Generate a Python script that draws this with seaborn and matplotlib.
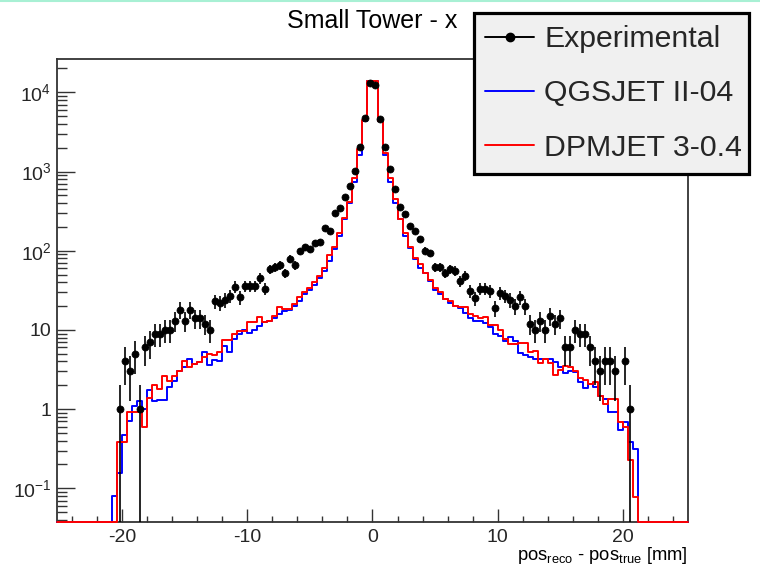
import numpy as np
import pandas as pd
import matplotlib
matplotlib.use("Agg")
import matplotlib.pyplot as plt
import seaborn as sns
from matplotlib.lines import Line2D
from matplotlib.ticker import FixedLocator, FixedFormatter, MultipleLocator, LogLocator, NullFormatter

# ---------------- data ----------------
bin_width = 0.4
x_range = (-25.2, 25.2)
# bin centres of the populated region (-20.6 ... 21.0)
centers = np.round(np.arange(-20.6, 21.0 + 1e-9, bin_width), 1)

experimental = [
    0, 1, 4, 3, 5, 1, 6, 7, 9, 9, 10, 10, 13, 18, 13, 18, 14, 14, 12, 10,
    23, 22, 24, 27, 35, 26, 36, 36, 36, 45, 33, 59, 62, 66, 52, 79, 66, 98, 111, 105,
    125, 130, 193, 178, 298, 351, 482, 662, 1014, 2050, 4800, 13240,
    12250, 4610, 2030, 1085, 603, 361, 288, 208, 177, 141, 100, 93, 62, 62, 52, 58,
    56, 41, 48, 31, 25, 33, 33, 31, 19, 29, 27, 24, 20, 26, 20, 12, 10, 13, 10, 15,
    12, 14, 6, 6, 10, 9, 9, 6, 4, 3, 4, 4, 3, 0, 4, 1, 0,
]

qgsjet = [
    0.079, 0.155, 0.475, 0.70, 1.1, 1.25, 1.0, 1.73, 1.25, 1.3, 1.3, 1.93, 2.27, 3.03,
    3.4, 4.3, 3.7, 3.9, 5.3, 3.6, 4.2, 4.1, 6.3, 5.3, 7.6, 9.0, 10.1, 9.2, 9.9, 11.2,
    12.5, 12.9, 14.2, 15.7, 17.3, 18.1, 20, 23.5, 28, 32, 37, 45, 56, 75, 106, 155,
    248, 400, 745, 1615, 4300, 13750,
    13750, 4300, 1615, 745, 400, 248, 155, 108, 78, 60, 52, 41, 32, 28, 24.7, 22,
    19.8, 19, 16.4, 14.2, 12.9, 12.9, 12.1, 10.8, 8.8, 8.4, 7.2, 8.2, 7.2, 5.06, 4.8,
    4.6, 4.34, 4.34, 4.34, 4.25, 3.9, 3.44, 2.89, 3.03, 2.95, 2.2, 1.87, 2.06, 1.93,
    1.47, 1.34, 0.92, 0.92, 0.55, 0.69, 0.39, 0.31,
]

dpmjet = [
    0, 0.39, 0.39, 0.92, 0.92, 0.92, 0.6, 1.4, 2.0, 1.79, 2.62, 2.27, 2.62, 3.03,
    4.1, 3.4, 3.7, 3.9, 4.5, 4.9, 4.8, 5.2, 7.4, 7.4, 8.8, 9.7, 9.7, 12.5, 12.5, 14.5,
    12.5, 12.9, 14.9, 19.5, 18.5, 18.6, 21.5, 25.9, 30, 34, 40, 48, 61, 89, 110, 167,
    258, 417, 820, 1900, 4450, 13750,
    13750, 4300, 1695, 820, 447, 250, 167, 113, 81, 67, 53, 43, 34, 30, 24.7, 23,
    20.3, 19.5, 19.5, 16, 15.2, 14.1, 14.7, 11.4, 11.4, 10.1, 7.7, 6.6, 6.6, 6.8, 6.9,
    5.26, 5.4, 3.8, 4.34, 3.8, 2.7, 3.1, 3.5, 3.44, 3.03, 2.5, 2.34, 2.06, 2.2,
    1.47, 1.16, 1.34, 1.34, 0.69, 0.6, 0.23, 0.077,
]

labels = ["Experimental", "QGSJET II-04", "DPMJET 3-0.4"]
ytick_vals = [0.1, 1, 10, 100, 1000, 10000]
ytick_labels = [r"$10^{-1}$", "1", "10", r"$10^{2}$", r"$10^{3}$", r"$10^{4}$"]
xtick_vals = [-20, -10, 0, 10, 20]
y_limits = (0.0379, 2.61e4)

assert len(experimental) == len(centers) == len(qgsjet) == len(dpmjet)

# ---------------- style ----------------
sns.set_theme(style="white")
plt.rcParams["font.family"] = ["Liberation Sans", "DejaVu Sans"]
plt.rcParams["mathtext.fontset"] = "custom"
plt.rcParams["mathtext.rm"] = "Liberation Sans"
plt.rcParams["mathtext.it"] = "Liberation Sans:italic"
plt.rcParams["mathtext.bf"] = "Liberation Sans:bold"
plt.rcParams["axes.unicode_minus"] = False

fig = plt.figure(figsize=(7.6, 5.66), dpi=100)
fig.patch.set_facecolor("white")
ax = fig.add_axes([57 / 760, 1 - 521.7 / 566, 631 / 760, 462.4 / 566])
ax.set_facecolor("white")
ax.set_yscale("log")

# full binning
edges = np.round(np.arange(x_range[0], x_range[1] + 1e-9, bin_width), 1)
all_centers = np.round((edges[:-1] + edges[1:]) / 2, 1)


def step_frame(values):
    """Histogram contents on the full binning as a step outline (edges, heights)."""
    s = pd.Series(values, index=centers).reindex(all_centers, fill_value=0.0)
    h = np.clip(s.values, y_limits[0], None)
    return pd.DataFrame({"edge": edges, "height": np.append(h, h[-1])})


sns.lineplot(data=step_frame(qgsjet), x="edge", y="height", drawstyle="steps-post",
             estimator=None, sort=False, color="#0000ff", linewidth=1.4, ax=ax,
             clip_on=False, zorder=3)
sns.lineplot(data=step_frame(dpmjet), x="edge", y="height", drawstyle="steps-post",
             estimator=None, sort=False, color="#ff0000", linewidth=1.4, ax=ax,
             clip_on=False, zorder=4)

exp = np.array(experimental, dtype=float)
mask = exp > 0
df_e = pd.DataFrame({"x": centers[mask], "y": exp[mask]})
ax.errorbar(df_e["x"], df_e["y"], yerr=np.sqrt(df_e["y"]), fmt="none",
            ecolor="black", elinewidth=1.2, capsize=0, zorder=5)
sns.scatterplot(data=df_e, x="x", y="y", color="black", edgecolor="black", s=26,
                linewidth=0.5, ax=ax, zorder=6, legend=False)

# ---------------- axes ----------------
ax.set_xlim(*x_range)
ax.set_ylim(*y_limits)
ax.set_ylabel("")
ax.xaxis.set_major_locator(FixedLocator(xtick_vals))
ax.xaxis.set_minor_locator(MultipleLocator(2))
ax.yaxis.set_major_locator(FixedLocator(ytick_vals))
ax.yaxis.set_major_formatter(FixedFormatter(ytick_labels))
ax.yaxis.set_minor_locator(LogLocator(base=10, subs=np.arange(2, 10), numticks=20))
ax.yaxis.set_minor_formatter(NullFormatter())

ax.tick_params(axis="x", which="major", direction="in", length=9.5, width=1.0,
               color="#333333", labelsize=14, pad=5, bottom=True, top=False)
ax.tick_params(axis="x", which="minor", direction="in", length=4.5, width=1.0,
               color="#333333", bottom=True, top=False)
ax.tick_params(axis="y", which="major", direction="in", length=13, width=1.0,
               color="#333333", labelsize=14, pad=4, left=True, right=False)
ax.tick_params(axis="y", which="minor", direction="in", length=7, width=1.0,
               color="#333333", left=True, right=False)

for sp in ax.spines.values():
    sp.set_visible(True)
    sp.set_color("#333333")
    sp.set_linewidth(1.3)

ax.set_xlabel(r"pos$_{\mathrm{reco}}$ - pos$_{\mathrm{true}}$ [mm]", fontsize=13.2,
              color="black")
ax.xaxis.set_label_coords(1.0, -0.05)
ax.xaxis.label.set_horizontalalignment("right")
ax.xaxis.label.set_verticalalignment("top")

fig.text(372 / 760, 1 - 21 / 566, "Small Tower - x", ha="center", va="center",
         fontsize=18, color="black")

# ---------------- legend ----------------
handles = [
    Line2D([], [], color="black", marker="o", markersize=6, lw=1.4),
    Line2D([], [], color="#0000ff", lw=1.4),
    Line2D([], [], color="#ff0000", lw=1.4),
]
leg = fig.legend(handles, labels, loc="upper left",
                 bbox_to_anchor=(473.5 / 760, 1 - 13.3 / 566, (749 - 473.5) / 760, 0.0),
                 bbox_transform=fig.transFigure, mode="expand",
                 fontsize=21.8, frameon=True, fancybox=False, borderpad=0.39,
                 labelspacing=0.87, handlelength=1.62, handletextpad=0.33,
                 borderaxespad=0.0)
frame = leg.get_frame()
frame.set_edgecolor("black")
frame.set_linewidth(2.3)
frame.set_facecolor("#f0f0f0")
frame.set_alpha(1.0)

# thin mint line at the top edge of the image
fig.add_artist(Line2D([0, 1], [0.999, 0.999], color="#a8f0d4", lw=1.5,
                      transform=fig.transFigure))

fig.savefig("out.png", dpi=100)
